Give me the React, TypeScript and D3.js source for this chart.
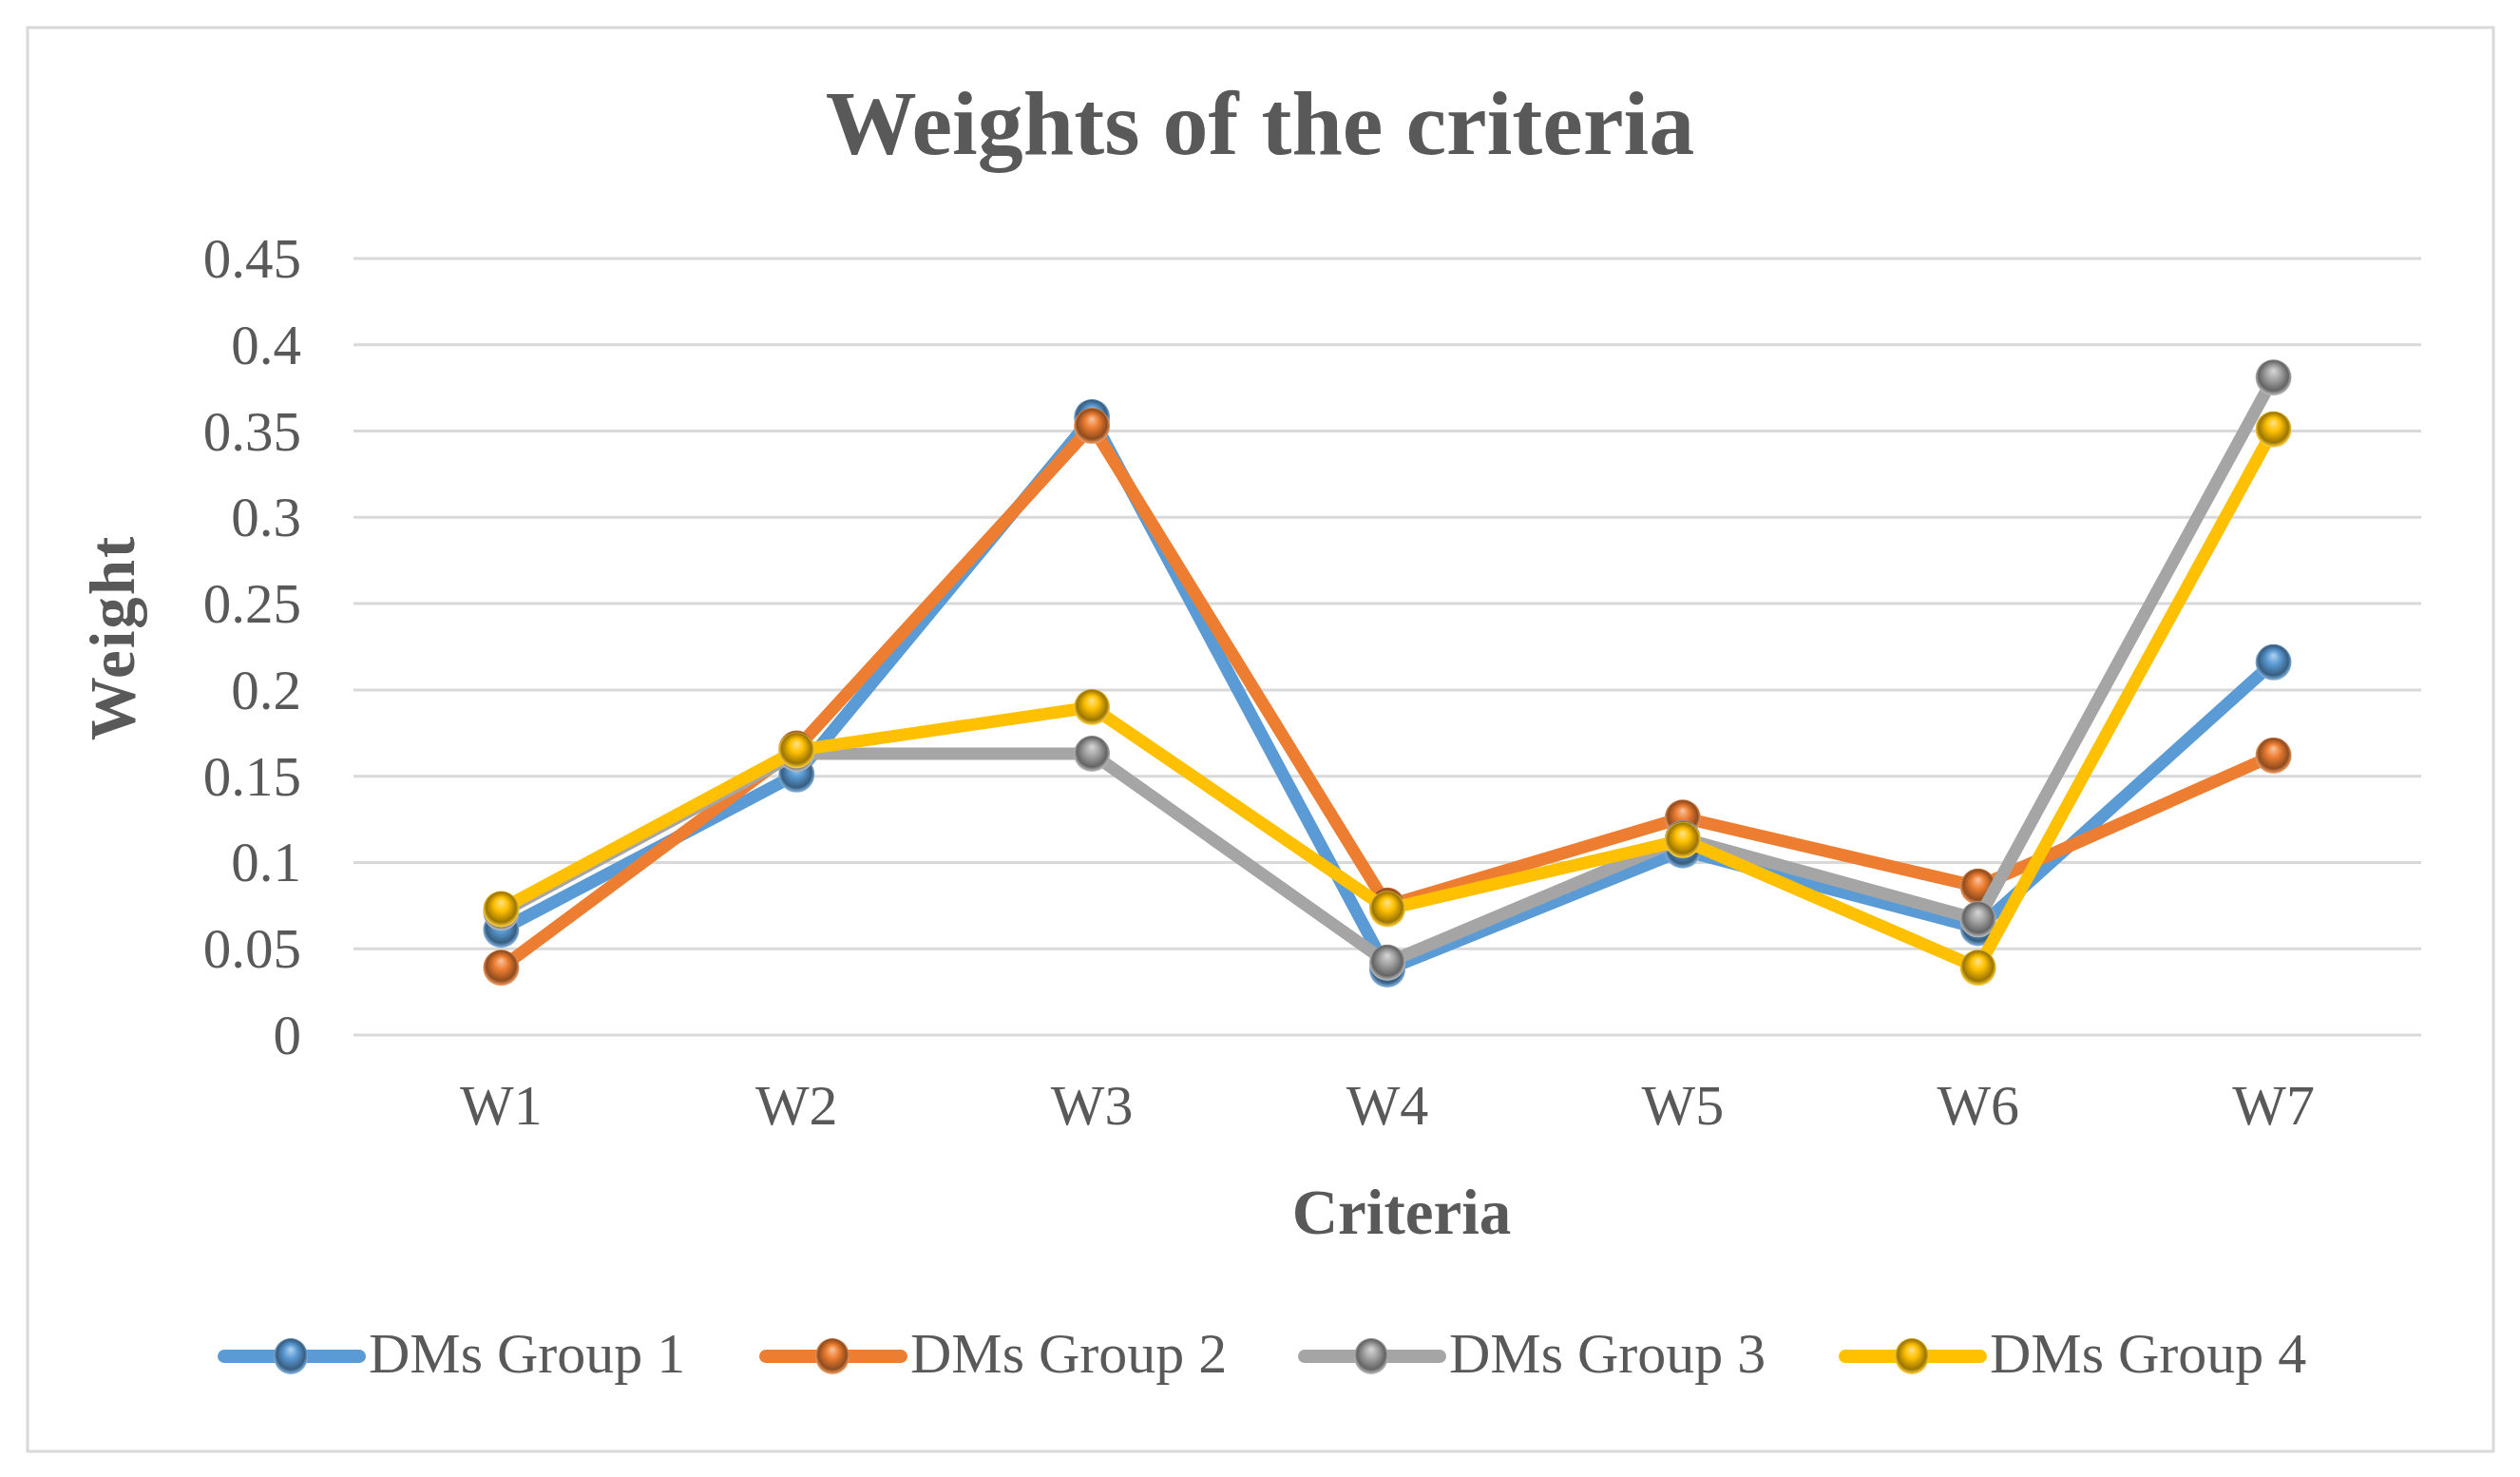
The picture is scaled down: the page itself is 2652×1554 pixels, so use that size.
import React from "react";
import * as d3 from "d3";

const categories = ["W1", "W2", "W3", "W4", "W5", "W6", "W7"];
const seriesNames = ["DMs Group 1", "DMs Group 2", "DMs Group 3", "DMs Group 4"];
const group1 = [0.061, 0.151, 0.358, 0.038, 0.107, 0.062, 0.216];
const group2 = [0.039, 0.166, 0.353, 0.075, 0.126, 0.086, 0.162];
const group3 = [0.071, 0.163, 0.163, 0.042, 0.114, 0.067, 0.381];
const group4 = [0.073, 0.165, 0.19, 0.073, 0.113, 0.039, 0.351];
const yTicks = [0, 0.05, 0.1, 0.15, 0.2, 0.25, 0.3, 0.35, 0.4, 0.45];
const colors = ["#5B9BD5", "#ED7D31", "#A5A5A5", "#FFC000"];

const W = 2652;
const H = 1554;
const serif = "'Liberation Serif', 'Times New Roman', serif";
const textColor = "#595959";

export default function App() {
  const seriesValues = [group1, group2, group3, group4];
  const x = d3.scaleBand<string>().domain(categories).range([372, 2548]);
  const y = d3.scaleLinear().domain([0, 0.45]).range([1089, 272]);
  const cx = (c: string) => (x(c) as number) + x.bandwidth() / 2;
  const line = d3
    .line<number>()
    .x((_, i) => cx(categories[i]))
    .y((d) => y(d));

  const legendX = [306, 876, 1443, 2012];
  const legendY = 1427;

  return (
    <svg
      width={W}
      height={H}
      viewBox={`0 0 ${W} ${H}`}
      style={{ position: "absolute", left: 0, top: 0, display: "block", background: "#fff" }}
    >
      <defs>
        {colors.map((c, i) => {
          const base = d3.color(c)!;
          const light = d3.interpolateRgb(c, "#ffffff")(0.55);
          const dark = base.darker(1.4).formatHex();
          const rim = d3.interpolateRgb(c, "#ffffff")(0.25);
          return (
            <radialGradient key={i} id={`sph${i}`} cx="50%" cy="50%" r="55%" fx="50%" fy="30%">
              <stop offset="0%" stopColor={light} />
              <stop offset="35%" stopColor={c} />
              <stop offset="75%" stopColor={dark} />
              <stop offset="92%" stopColor={rim} />
              <stop offset="100%" stopColor={c} />
            </radialGradient>
          );
        })}
      </defs>
      <rect x={0} y={0} width={W} height={H} fill="#fff" />
      <rect x={29} y={29} width={2595} height={1498} fill="none" stroke="#D9D9D9" strokeWidth={3} />

      <text
        x={1326}
        y={162}
        textAnchor="middle"
        fontFamily={serif}
        fontWeight="bold"
        fontSize={96}
        fill={textColor}
      >
        Weights of the criteria
      </text>

      {yTicks.map((t) => (
        <g key={t}>
          <line x1={372} x2={2548} y1={y(t)} y2={y(t)} stroke="#D9D9D9" strokeWidth={3} />
          <text
            x={317}
            y={y(t) + 20}
            textAnchor="end"
            fontFamily={serif}
            fontSize={59}
            fill={textColor}
          >
            {String(t)}
          </text>
        </g>
      ))}

      {categories.map((c) => (
        <text
          key={c}
          x={cx(c)}
          y={1183}
          textAnchor="middle"
          fontFamily={serif}
          fontSize={60}
          fill={textColor}
        >
          {c}
        </text>
      ))}

      <text
        x={1475}
        y={1298}
        textAnchor="middle"
        fontFamily={serif}
        fontWeight="bold"
        fontSize={67}
        fill={textColor}
      >
        Criteria
      </text>
      <text
        transform={`translate(141,671) rotate(-90)`}
        textAnchor="middle"
        fontFamily={serif}
        fontWeight="bold"
        fontSize={67}
        letterSpacing={2}
        fill={textColor}
      >
        Weight
      </text>

      {seriesValues.map((vals, si) => (
        <g key={si}>
          <path
            d={line(vals) as string}
            fill="none"
            stroke={colors[si]}
            strokeWidth={13}
            strokeLinejoin="round"
            strokeLinecap="round"
          />
          {vals.map((v, i) => (
            <circle key={i} cx={cx(categories[i])} cy={y(v)} r={19} fill={`url(#sph${si})`} />
          ))}
        </g>
      ))}

      {seriesNames.map((name, i) => (
        <g key={name}>
          <line
            x1={legendX[i] - 70}
            x2={legendX[i] + 72}
            y1={legendY}
            y2={legendY}
            stroke={colors[i]}
            strokeWidth={14}
            strokeLinecap="round"
          />
          <ellipse cx={legendX[i]} cy={legendY} rx={18} ry={19} fill={`url(#sph${i})`} />
          <text
            x={legendX[i] + 82}
            y={1444}
            fontFamily={serif}
            fontSize={60}
            fill={textColor}
          >
            {name}
          </text>
        </g>
      ))}
    </svg>
  );
}
